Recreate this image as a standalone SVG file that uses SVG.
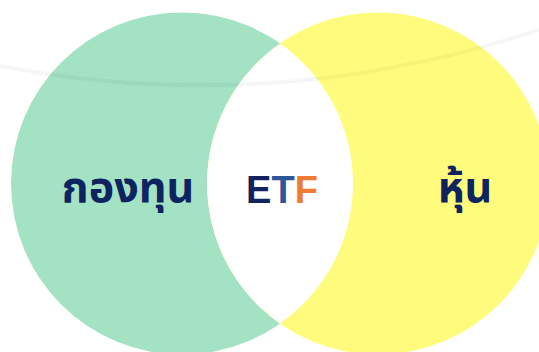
<svg xmlns="http://www.w3.org/2000/svg" width="539" height="352" viewBox="0 0 539 352">
<style>
.lbl{font-family:"Noto Sans Thai","Noto Sans Thai UI","Leelawadee UI",Tahoma,"Noto Sans","DejaVu Sans",sans-serif;font-weight:bold;fill:#0E2461;text-anchor:middle}
.etf{font-family:"Liberation Sans",Arial,sans-serif;font-weight:bold;font-size:38px;text-anchor:middle}
</style>
<rect width="539" height="352" fill="#FFFFFF"/>
<g id="fund">
<circle cx="182" cy="183.5" r="171" fill="#A3E2C3"/>
</g>
<g id="stock">
<circle cx="378" cy="183.5" r="171" fill="#FFFC7D"/>
</g>
<g id="etf">
<path d="M280,43.4 A171,171 0 0 1 280,323.6 A171,171 0 0 1 280,43.4 Z" fill="#FFFFFF"/>
</g>
<path d="M0,66 Q270,118 539,30" fill="none" stroke="#000" stroke-opacity="0.035" stroke-width="4"/>
<g id="labels">
<text class="lbl" x="128" y="202" font-size="43">กองทุน</text>
<text class="etf" x="282" y="203"><tspan fill="#13235F">E</tspan><tspan fill="#2E5597">T</tspan><tspan fill="#EE7D31">F</tspan></text>
<text class="lbl" x="465" y="202" font-size="43">หุ้น</text>
</g>
</svg>
